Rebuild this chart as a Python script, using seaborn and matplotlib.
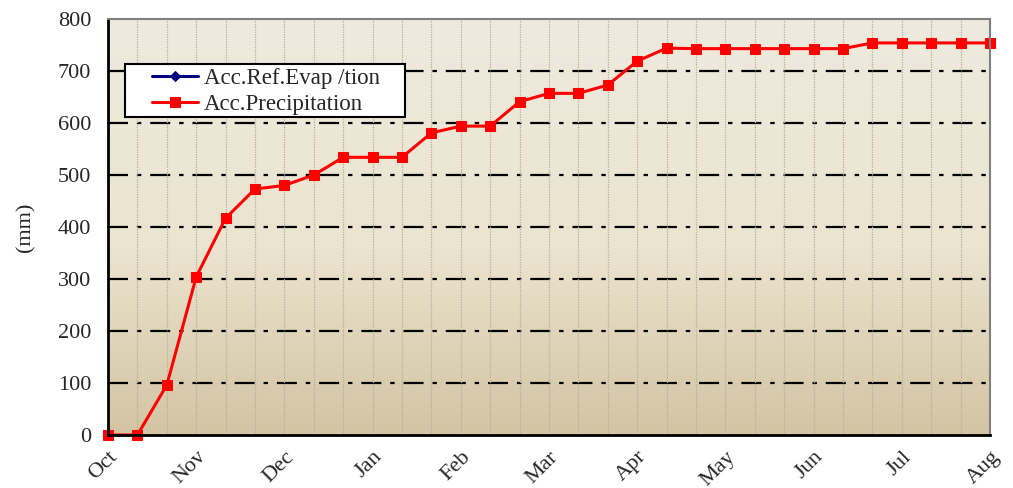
import numpy as np
import pandas as pd
import matplotlib
matplotlib.use('Agg')
import matplotlib.pyplot as plt
import seaborn as sns
from matplotlib.colors import LinearSegmentedColormap
from matplotlib.patches import Rectangle

# 10-day periods from October to August
months = ['Oct', 'Nov', 'Dec', 'Jan', 'Feb', 'Mar', 'Apr', 'May', 'Jun', 'Jul', 'Aug']
precip = [0, 0, 96, 304, 417, 473, 480, 500, 534, 534, 534, 581, 594, 594, 641, 657,
          657, 673, 719, 744, 743, 743, 743, 743, 743, 743, 754, 754, 754, 754, 754]
evap_step = [0]
evap = [0]

df = pd.DataFrame({'step': np.arange(len(precip)), 'precip': precip})
df_ev = pd.DataFrame({'step': evap_step, 'evap': evap})

sns.set_style('white')
plt.rcParams['font.family'] = ['Liberation Serif', 'DejaVu Serif']

fig = plt.figure(figsize=(10.13, 4.88), dpi=100)
ax = fig.add_axes([108 / 1013, 1 - 435 / 488, 882 / 1013, 416 / 488])

# gradient background
cmap = LinearSegmentedColormap.from_list('bg', [(0, '#d3c4a3'), (0.45, '#ebe4cf'), (1, '#eeeade')])
grad = np.linspace(0, 1, 256).reshape(-1, 1)
ax.imshow(grad, cmap=cmap, aspect='auto', extent=[0, 1, 0, 1], origin='lower',
          transform=ax.transAxes, zorder=0)

sns.lineplot(data=df_ev, x='step', y='evap', ax=ax, color='#000080', marker='D',
             markersize=5, linewidth=2.2, markeredgecolor='#000080',
             label='Acc.Ref.Evap /tion', zorder=3)
sns.lineplot(data=df, x='step', y='precip', ax=ax, color='#ff0000', marker='s',
             markersize=6.5, linewidth=2.2, markeredgecolor='#ff0000',
             label='Acc.Precipitation', zorder=4, clip_on=False)

ax.set_xlim(0, len(precip) - 1)
ax.set_ylim(0, 800)
ax.set_yticks(range(0, 801, 100))
ax.set_xticks(range(len(precip)))
ax.set_xticklabels([months[i // 3] if i % 3 == 0 else '' for i in range(len(precip))],
                   rotation=45, ha='right', rotation_mode='anchor')
ax.tick_params(axis='x', direction='in', length=5, width=1.5, labelsize=16, pad=9)
ax.tick_params(axis='y', direction='out', length=8, width=1.5, labelsize=16, color='#555555', pad=4)

for y in range(100, 800, 100):
    ax.axhline(y, color='black', linewidth=1.6, linestyle=(0, (9, 4, 2, 4)), zorder=1)
for x in range(1, len(precip) - 1):
    ax.axvline(x, color='#b5ae9e', linewidth=0.9, linestyle=(0, (1, 1)), zorder=1)

ax.set_xlabel('')
ax.set_ylabel('(mm)', fontsize=16, labelpad=16)

for s in ['left', 'bottom']:
    ax.spines[s].set_color('black')
    ax.spines[s].set_linewidth(2)
for s in ['top', 'right']:
    ax.spines[s].set_color('#808080')
    ax.spines[s].set_linewidth(1.5)
for sp in ax.spines.values():
    sp.set_zorder(5)

# legend box
ax.add_patch(Rectangle((17 / 882, 318 / 416), 280 / 882, 53 / 416, transform=ax.transAxes,
                       facecolor='white', edgecolor='black', linewidth=1.5, zorder=6))
leg = ax.legend(loc='upper left', bbox_to_anchor=(44 / 882, 1 - 49 / 416), fontsize=16.5,
                frameon=False, borderpad=0, labelspacing=0.2, handlelength=2.0,
                handletextpad=0.25, borderaxespad=0)
leg.set_zorder(7)

fig.savefig('out.png', dpi=100)
